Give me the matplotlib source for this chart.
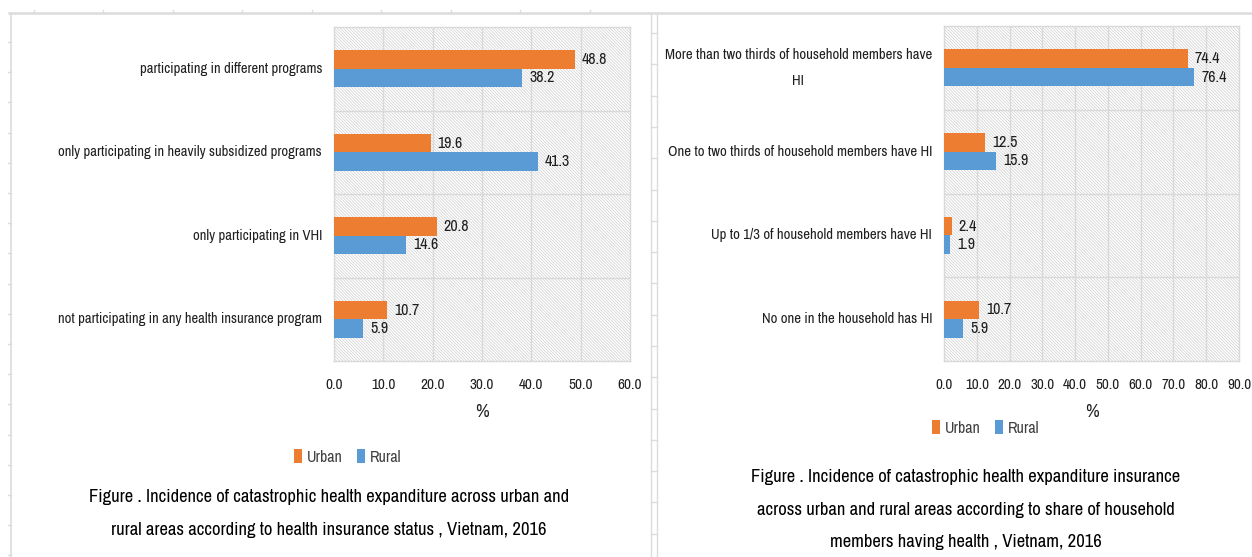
import matplotlib
matplotlib.use("Agg")
import matplotlib.pyplot as plt
from matplotlib import font_manager as fm
from matplotlib.patches import Rectangle
from matplotlib.lines import Line2D
import numpy as np

# ---------------- data ----------------
left_categories = [
    "participating in different programs",
    "only participating in heavily subsidized programs",
    "only participating in VHI",
    "not participating in any health insurance program",
]
left_urban = [48.8, 19.6, 20.8, 10.7]
left_rural = [38.2, 41.3, 14.6, 5.9]
left_ticks = [0, 10, 20, 30, 40, 50, 60]

right_categories = [
    "More than two thirds of household members have\nHI",
    "One to two thirds of household members have HI",
    "Up to 1/3 of household members have HI",
    "No one in the household has HI",
]
right_urban = [74.4, 12.5, 2.4, 10.7]
right_rural = [76.4, 15.9, 1.9, 5.9]
right_ticks = [0, 10, 20, 30, 40, 50, 60, 70, 80, 90]

series_names = ["Urban", "Rural"]
left_caption = ("Figure . Incidence of catastrophic health expanditure across urban and\n"
                "rural areas according to health insurance status , Vietnam, 2016")
right_caption = ("Figure . Incidence of catastrophic health expanditure insurance\n"
                 "across urban and rural areas according to share of household\n"
                 "members having health , Vietnam, 2016")

# ---------------- font choice: prefer a narrow face ----------------
names = {f.name for f in fm.fontManager.ttflist}
narrow = sorted(n for n in names if ("Narrow" in n or "Condensed" in n))
if "Liberation Sans Narrow" in names:
    FACE = "Liberation Sans Narrow"
elif narrow:
    FACE = narrow[0]
else:
    FACE = "Lato"
plt.rcParams["font.family"] = [FACE, "DejaVu Sans"]
plt.rcParams["hatch.linewidth"] = 0.55
NARROW = FACE != "Lato"
S = 1.0 if NARROW else 0.86  # size factor to keep widths close to reference

ORANGE = "#ED7D31"
BLUE = "#5B9BD5"
GRID = "#d9d9d9"
TXT = "#404040"
DARK = "#1f1f1f"

W, H = 1252, 557
fig = plt.figure(figsize=(W / 100, H / 100), dpi=100)
fig.patch.set_facecolor("white")


def px_axes(x0, x1, y0, y1):
    return fig.add_axes([x0 / W, 1 - y1 / H, (x1 - x0) / W, (y1 - y0) / H])


def draw_chart(ax, cats, urban, rural, ticks, lab_size, cat_size):
    n = len(cats)
    y = np.arange(n)
    h = 0.22
    ax.set_facecolor("white")
    ax.add_patch(Rectangle((0, 0), 1, 1, transform=ax.transAxes, facecolor="white",
                           edgecolor="#d2d2d2", hatch="\\" * 11, linewidth=0, zorder=0))
    b1 = ax.barh(y - h / 2, urban, height=h, color=ORANGE, zorder=3, label=series_names[0])
    b2 = ax.barh(y + h / 2, rural, height=h, color=BLUE, zorder=3, label=series_names[1])
    for bars, vals in ((b1, urban), (b2, rural)):
        for rect, v in zip(bars, vals):
            ax.annotate(f"{v:.1f}", (rect.get_width(), rect.get_y() + rect.get_height() / 2),
                        xytext=(7, 0), textcoords="offset pixels", ha="left", va="center",
                        fontsize=11.5 * S, color=DARK, zorder=4)
    ax.set_xlim(ticks[0], ticks[-1])
    ax.set_ylim(n - 0.5, -0.5)
    ax.set_xticks(ticks)
    ax.set_xticklabels([f"{t:.1f}" for t in ticks], fontsize=lab_size, color=DARK)
    ax.tick_params(axis="x", length=0, pad=12)
    ax.set_yticks([])
    for xv in ticks[1:-1]:
        ax.axvline(xv, color=GRID, lw=1, zorder=1)
    for yv in np.arange(0.5, n - 0.5, 1):
        ax.axhline(yv, color=GRID, lw=1, zorder=1)
    for s in ax.spines.values():
        s.set_color(GRID)
        s.set_linewidth(1)
    ax.set_xlabel("%", fontsize=13.5 * S, color=DARK, labelpad=9)
    for i, c in enumerate(cats):
        ax.annotate(c, (0, i), xycoords=("axes fraction", "data"), xytext=(-12, 0),
                    textcoords="offset pixels", ha="right", va="center", fontsize=cat_size,
                    color=DARK, multialignment="center", linespacing=2.1)
    return b1, b2


axL = px_axes(334, 630, 27, 361)
bL = draw_chart(axL, left_categories, left_urban, left_rural, left_ticks, 11 * S, 10.5 * S)
axR = px_axes(944, 1239, 26, 361)
bR = draw_chart(axR, right_categories, right_urban, right_rural, right_ticks, 10.8 * S, 10.6 * S)

# legends
for handles, cx, cy in ((bL, 348, 457), (bR, 986, 428)):
    fig.legend(handles=handles, labels=series_names, loc="center",
               bbox_to_anchor=(cx / W, 1 - cy / H), ncol=2, frameon=False,
               fontsize=11.5 * S, handlelength=0.5, handleheight=0.9,
               handletextpad=0.3, columnspacing=0.9, labelcolor=TXT)

# captions
fig.text(329 / W, 1 - 513.5 / H, left_caption, ha="center", va="center", fontsize=13.4 * S,
         linespacing=2.25, color="black")
fig.text(966 / W, 1 - 509.5 / H, right_caption, ha="center", va="center", fontsize=13.4 * S,
         linespacing=2.3, color="black")

# spreadsheet decoration
deco = "#dcdcdc"
fig.add_artist(Line2D([9 / W, 1], [1 - 12.5 / H] * 2, color=deco, lw=1.8))
fig.add_artist(Line2D([11 / W] * 2, [0, 1 - 12.5 / H], color=deco, lw=1.2))
fig.add_artist(Line2D([650.5 / W] * 2, [0, 1 - 12.5 / H], color=deco, lw=1.0))
fig.add_artist(Line2D([657.5 / W] * 2, [0, 1 - 12.5 / H], color=deco, lw=1.0))
for yy in np.arange(42, H, 30.2):
    fig.add_artist(Line2D([8 / W, 11 / W], [1 - yy / H] * 2, color=deco, lw=1.0))
for yy in np.arange(33, H, 31.3):
    fig.add_artist(Line2D([650.5 / W, 657.5 / W], [1 - yy / H] * 2, color=deco, lw=1.0))
for xx in np.arange(33.5, 640, 69.5):
    fig.add_artist(Line2D([xx / W] * 2, [1 - 12.5 / H, 1 - 10 / H], color=deco, lw=1.0))

fig.savefig("out.png", dpi=100, facecolor="white")
